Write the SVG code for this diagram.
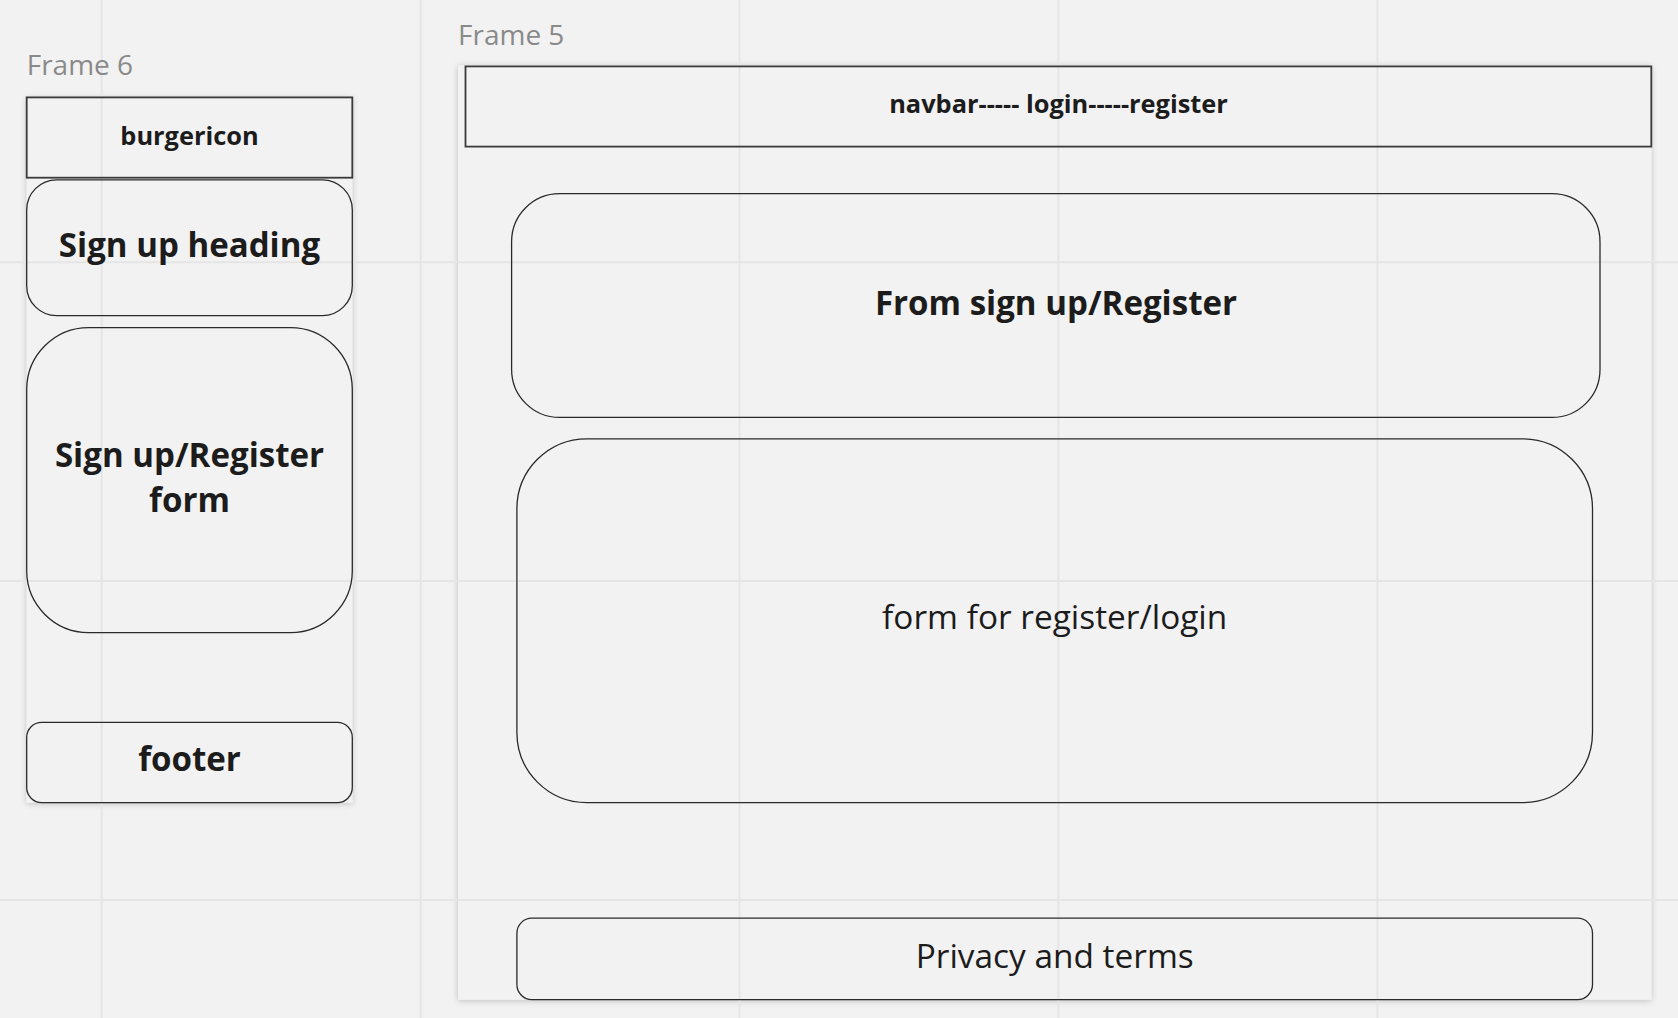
<svg xmlns="http://www.w3.org/2000/svg" width="1678" height="1018" viewBox="0 0 1678 1018">
<defs>
<filter id="sh" x="-5%" y="-5%" width="110%" height="110%">
<feDropShadow dx="0" dy="1" stdDeviation="3" flood-color="#000" flood-opacity="0.22"/>
</filter>
<style>
.bg{fill:#f2f2f2}
.grid{stroke:#e5e5e5;stroke-width:2;fill:none}
.frame{fill:#f2f2f2;filter:url(#sh)}
.lbl{font-family:"Open Sans","Noto Sans",sans-serif;font-size:28px;fill:#8a8a8a}
.box{fill:none;stroke:#2a2a2a;stroke-width:1.3}
.bar{fill:none;stroke:#3a3a3a;stroke-width:1.8}
.t{font-family:"Open Sans","Noto Sans",sans-serif;fill:#1c1c1c;text-anchor:middle}
.b26{font-size:25.4px;font-weight:700}
.b34{font-size:33.1px;font-weight:700}
.r32{font-size:33.4px;font-weight:400}
</style>
</defs>
<rect class="bg" x="0" y="0" width="1678" height="1018"/>
<g id="frames">
<rect class="frame" x="26.7" y="97.4" width="325.6" height="705.2"/>
<rect class="frame" x="458" y="65.3" width="1193.3" height="934.5"/>
</g>
<g id="grid">
<line class="grid" x1="101.7" y1="0" x2="101.7" y2="1018"/>
<line class="grid" x1="420.6" y1="0" x2="420.6" y2="1018"/>
<line class="grid" x1="739.5" y1="0" x2="739.5" y2="1018"/>
<line class="grid" x1="1058.4" y1="0" x2="1058.4" y2="1018"/>
<line class="grid" x1="1377.4" y1="0" x2="1377.4" y2="1018"/>
<line class="grid" x1="0" y1="262.2" x2="1678" y2="262.2"/>
<line class="grid" x1="0" y1="581.1" x2="1678" y2="581.1"/>
<line class="grid" x1="0" y1="900" x2="1678" y2="900"/>
</g>
<text class="lbl" x="26.7" y="75">Frame 6</text>
<text class="lbl" x="458" y="45">Frame 5</text>
<g id="burgericon">
<rect class="bar" x="26.7" y="97.4" width="325.6" height="80.3"/>
<text class="t b26" x="189.5" y="145">burgericon</text>
</g>
<g id="signup-heading">
<rect class="box" x="26.7" y="179.8" width="325.6" height="135.9" rx="30"/>
<text class="t b34" x="189.5" y="256.5">Sign up heading</text>
</g>
<g id="signup-form">
<rect class="box" x="26.7" y="327.6" width="325.6" height="305" rx="62"/>
<text class="t b34" x="189.5" y="466.5">Sign up/Register</text>
<text class="t b34" x="189.5" y="511.5">form</text>
</g>
<g id="footer">
<rect class="box" x="26.7" y="722.4" width="325.6" height="80.2" rx="15"/>
<text class="t b34" x="189.5" y="771">footer</text>
</g>
<g id="navbar">
<rect class="bar" x="465.5" y="66.4" width="1185.8" height="80.2"/>
<text class="t b26" x="1058.5" y="112.5">navbar----- login-----register</text>
</g>
<g id="from-signup">
<rect class="box" x="511.6" y="193.7" width="1088.4" height="223.7" rx="48"/>
<text class="t b34" x="1056" y="315">From sign up/Register</text>
</g>
<g id="form-register">
<rect class="box" x="516.9" y="438.8" width="1075.6" height="363.8" rx="70"/>
<text class="t r32" x="1054.7" y="629">form for register/login</text>
</g>
<g id="privacy">
<rect class="box" x="516.9" y="918.2" width="1075.6" height="81.4" rx="15"/>
<text class="t r32" x="1054.7" y="967.5">Privacy and terms</text>
</g>
<g id="connectors"/>
</svg>
